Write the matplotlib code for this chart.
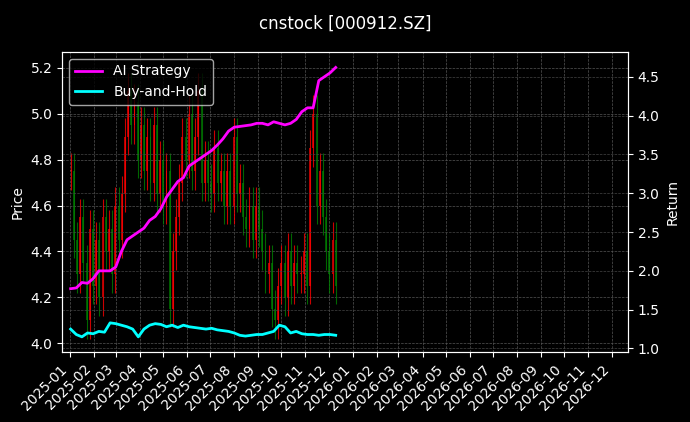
import numpy as np
import pandas as pd
import matplotlib.pyplot as plt
import matplotlib.dates as mdates

close = [4.75, 4.45, 4.30, 4.55, 4.35, 4.10, 4.50, 4.25, 4.45, 4.20, 4.55, 4.40,
         4.50, 4.30, 4.60, 4.45, 4.65, 4.90, 5.10, 4.95, 5.05, 4.80, 4.95, 4.75,
         4.90, 4.70, 4.95, 4.65, 4.80, 4.60, 4.75, 4.15, 4.40, 4.55, 4.70, 4.90,
         4.80, 5.00, 4.75, 4.90, 5.10, 4.70, 4.80, 4.70, 4.65, 4.85, 4.70, 4.75,
         4.60, 4.75, 4.60, 4.90, 4.65, 4.70, 4.55, 4.50, 4.60, 4.45, 4.60, 4.50,
         4.40, 4.30, 4.35, 4.15, 4.10, 4.25, 4.35, 4.20, 4.40, 4.25, 4.35, 4.30,
         4.30, 4.40, 4.25, 4.85, 5.00, 4.60, 4.75, 4.55, 4.40, 4.30, 4.45, 4.25]
ai_ret = [1.77, 1.78, 1.85, 1.84, 1.90, 2.00, 2.00, 2.00, 2.05, 2.25, 2.40, 2.45,
          2.50, 2.55, 2.65, 2.70, 2.80, 2.95, 3.05, 3.15, 3.20, 3.35, 3.40, 3.45,
          3.50, 3.55, 3.62, 3.70, 3.80, 3.85, 3.86, 3.87, 3.88, 3.90, 3.90, 3.88,
          3.92, 3.90, 3.88, 3.90, 3.95, 4.05, 4.10, 4.10, 4.45, 4.50, 4.55, 4.62]
bh_ret = [1.25, 1.18, 1.15, 1.20, 1.19, 1.22, 1.21, 1.33, 1.32, 1.30, 1.28, 1.25,
          1.15, 1.25, 1.30, 1.32, 1.31, 1.28, 1.30, 1.27, 1.30, 1.28, 1.27, 1.26,
          1.25, 1.26, 1.24, 1.23, 1.22, 1.20, 1.17, 1.16, 1.17, 1.18, 1.18, 1.20,
          1.22, 1.30, 1.28, 1.20, 1.22, 1.19, 1.18, 1.18, 1.17, 1.18, 1.18, 1.17]

plt.style.use('dark_background')
dates = pd.date_range('2025-01-02', '2025-12-10', periods=len(close))
rdates = pd.date_range('2025-01-02', '2025-12-10', periods=len(ai_ret))
opens = [close[0]] + close[:-1]

fig, ax = plt.subplots(figsize=(6.9, 4.22), dpi=100)
fig.subplots_adjust(left=0.09, right=0.91, top=0.877, bottom=0.165)
fig.suptitle('cnstock [000912.SZ]', fontsize=12, y=0.965)

w = (dates[1] - dates[0]).days * 0.6
for d, o, c in zip(dates, opens, close):
    col = 'red' if c >= o else 'green'
    lo, hi = min(o, c), max(o, c)
    ax.vlines(d, lo - 0.08, hi + 0.08, color=col, lw=0.8, alpha=0.8)
    ax.bar(d, max(hi - lo, 0.005), bottom=lo, width=w, color=col, alpha=0.7)

ax.set_ylabel('Price')
ax.set_ylim(3.96, 5.27)
ax.grid(True, ls='--', lw=0.5, color='#555555')

ax2 = ax.twinx()
ax2.plot(rdates, ai_ret, color='magenta', lw=2, label='AI Strategy')
ax2.plot(rdates, bh_ret, color='cyan', lw=2, label='Buy-and-Hold')
ax2.set_ylabel('Return')
ax2.set_ylim(0.95, 4.82)
ax2.grid(True, ls='--', lw=0.5, color='#444444')
ax2.legend(loc='upper left')

ax.set_xlim(pd.Timestamp('2024-12-22'), pd.Timestamp('2026-12-22'))
ax.xaxis.set_major_locator(mdates.MonthLocator())
ax.xaxis.set_major_formatter(mdates.DateFormatter('%Y-%m'))
plt.setp(ax.get_xticklabels(), rotation=45, ha='right')

fig.savefig('out.png')
